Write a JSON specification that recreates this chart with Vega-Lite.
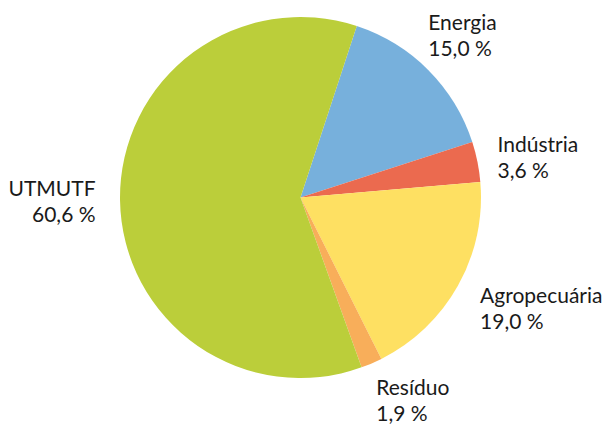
{
  "$schema": "https://vega.github.io/schema/vega-lite/v6.json",
  "width": 361,
  "height": 361,
  "padding": {"left": 120, "top": 17, "right": 126, "bottom": 48},
  "autosize": {"type": "none"},
  "background": "white",
  "config": {"view": {"stroke": null}},
  "data": {
    "values": [
      {"category": "Energia", "value": 15.0, "label": "Energia\n15,0 %", "order": 1},
      {"category": "Indústria", "value": 3.6, "label": "Indústria\n3,6 %", "order": 2},
      {"category": "Agropecuária", "value": 19.0, "label": "Agropecuária\n19,0 %", "order": 3},
      {"category": "Resíduo", "value": 1.9, "label": "Resíduo\n1,9 %", "order": 4},
      {"category": "UTMUTF", "value": 60.6, "label": "UTMUTF\n60,6 %", "order": 5}
    ]
  },
  "encoding": {
    "theta": {"field": "value", "type": "quantitative", "stack": true, "scale": {"range": [0.317, 6.6002]}},
    "order": {"field": "order", "type": "quantitative"}
  },
  "layer": [
    {
      "mark": {"type": "arc", "stroke": null},
      "encoding": {
        "color": {
          "field": "category",
          "type": "nominal",
          "scale": {
            "domain": ["Energia", "Indústria", "Agropecuária", "Resíduo", "UTMUTF"],
            "range": ["#77B0DC", "#EB6A4F", "#FEE062", "#F8AE5A", "#BBCE3A"]
          },
          "legend": null
        }
      }
    },
    {
      "mark": {"type": "text", "radius": 200, "align": "left", "baseline": "top", "lineHeight": 26, "lineBreak": "\n", "font": "Lato", "fontSize": 21, "color": "#1a1a1a", "dx": -14, "dy": -43},
      "encoding": {"text": {"condition": {"test": "datum.category === 'Energia'", "field": "label"}, "value": ""}}
    },
    {
      "mark": {"type": "text", "radius": 200, "align": "left", "baseline": "top", "lineHeight": 26, "lineBreak": "\n", "font": "Lato", "fontSize": 21, "color": "#1a1a1a", "dx": 1, "dy": -23},
      "encoding": {"text": {"condition": {"test": "datum.category === 'Indústria'", "field": "label"}, "value": ""}}
    },
    {
      "mark": {"type": "text", "radius": 200, "align": "left", "baseline": "top", "lineHeight": 26, "lineBreak": "\n", "font": "Lato", "fontSize": 21, "color": "#1a1a1a", "dx": 5, "dy": -9},
      "encoding": {"text": {"condition": {"test": "datum.category === 'Agropecuária'", "field": "label"}, "value": ""}}
    },
    {
      "mark": {"type": "text", "radius": 200, "align": "left", "baseline": "top", "lineHeight": 26, "lineBreak": "\n", "font": "Lato", "fontSize": 21, "color": "#1a1a1a", "dx": -3, "dy": -3},
      "encoding": {"text": {"condition": {"test": "datum.category === 'Resíduo'", "field": "label"}, "value": ""}}
    },
    {
      "mark": {"type": "text", "radius": 200, "align": "right", "baseline": "top", "lineHeight": 26, "lineBreak": "\n", "font": "Lato", "fontSize": 21, "color": "#1a1a1a", "dx": -5, "dy": -21},
      "encoding": {"text": {"condition": {"test": "datum.category === 'UTMUTF'", "field": "label"}, "value": ""}}
    }
  ]
}
